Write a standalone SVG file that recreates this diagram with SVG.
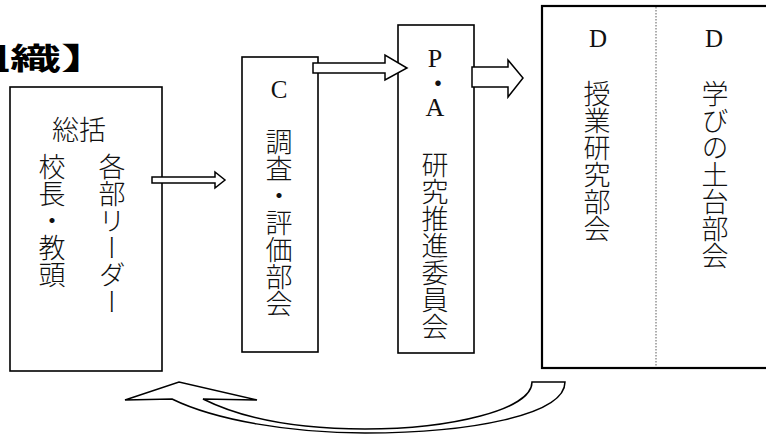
<svg xmlns="http://www.w3.org/2000/svg" width="766" height="434" viewBox="0 0 766 434">
<style>
.box{fill:#fff;stroke:#000;stroke-width:1.6}
.boxd{fill:#fff;stroke:#000;stroke-width:2.2}
.arr{fill:#fff;stroke:#000;stroke-width:1.5;stroke-linejoin:miter}
.jp{font-family:"Noto Sans CJK JP","Noto Sans",sans-serif;font-size:27px;fill:#111;font-weight:300}
.v{writing-mode:vertical-rl;text-orientation:upright}
.lat{font-family:"Liberation Serif","DejaVu Serif",serif;font-size:25px;fill:#111;text-anchor:middle}
.title{font-family:"Noto Sans CJK JP","Noto Sans",sans-serif;font-size:30px;font-weight:700;fill:#000}
</style>
<rect width="766" height="434" fill="#fff"/>
<text class="title" transform="translate(-41,69) scale(1.7,1)" x="0" y="0">組織】</text>

<g id="node-sokatsu">
<rect class="box" x="10" y="87" width="152" height="284"/>
<text class="jp" x="79" y="140" text-anchor="middle">総括</text>
<text class="jp v" x="52" y="153">校長・教頭</text>
<text class="jp v" x="112" y="153">各部リーダー</text>
</g>

<g id="node-c">
<rect class="box" x="242" y="57" width="76" height="295"/>
<text class="lat" x="279" y="98">C</text>
<text class="jp v" x="279" y="128">調査・評価部会</text>
</g>

<g id="node-pa">
<rect class="box" x="398" y="25" width="76" height="328"/>
<text class="v" x="435" y="44" font-family="Liberation Serif, Noto Sans CJK JP, serif" font-size="26" letter-spacing="-3" fill="#111">P・A</text>
<text class="jp v" x="435" y="151">研究推進委員会</text>
</g>

<g id="node-d">
<rect class="boxd" x="542" y="6" width="240" height="362"/>
<line x1="656" y1="7" x2="656" y2="367" stroke="#777" stroke-width="1.2" stroke-dasharray="1.5,1.5"/>
<text class="lat" x="598" y="47">D</text>
<text class="lat" x="714" y="47">D</text>
<text class="jp v" x="597" y="80">授業研究部会</text>
<text class="jp v" x="715" y="80">学びの土台部会</text>
</g>

<g id="connectors">
<path class="arr" d="M152,177 L215,177 L215,172 L225,180 L215,188 L215,183 L152,183 Z"/>
<path class="arr" d="M313,63 L385,63 L385,55 L407,68 L385,80 L385,73 L313,73 Z"/>
<path class="arr" d="M472,67 L508,67 L508,60 L523,78 L508,97 L508,87 L472,87 Z"/>
<path class="arr" d="M532,382 L565,382 C565,415 470,433 365,433 C290,433 215,420 172,399 L125,400 L179,382 L257,400 L203,399 C245,420 300,429 365,429 C450,429 532,410 532,382 Z"/>
</g>
</svg>
